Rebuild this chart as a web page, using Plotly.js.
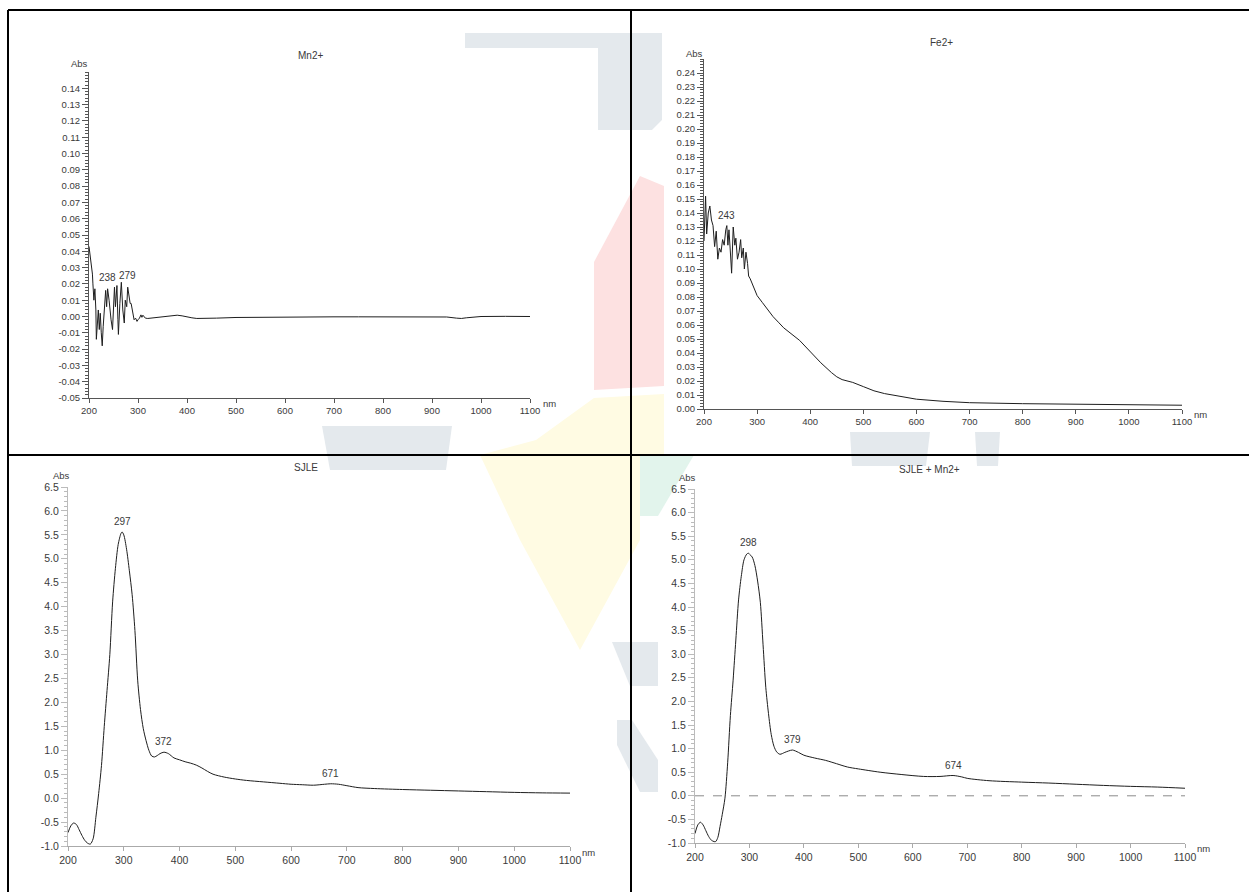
<!DOCTYPE html>
<html>
<head>
<meta charset="utf-8">
<script src="https://cdn.plot.ly/plotly-3.0.1.min.js"></script>
<style>
  html, body { margin: 0; padding: 0; background: #ffffff; }
  #chart { width: 1249px; height: 892px; }
</style>
</head>
<body>
<div id="chart"></div>
<script>
// ---- Spectra (wavelength in nm, absorbance) ----
const mnWavelength = [200,202,205,207,208,210,212,214,215,217,219,221,223,225,227,229,231,234,236,238,241,243,245,248,250,252,254,257,259,260,263,266,269,272,274,277,279,282,284,286,289,292,295,298,300,303,306,308,310,315,320,330,340,350,360,370,380,390,400,410,420,440,460,500,550,600,650,700,750,800,850,900,930,950,960,970,990,1000,1050,1100];
const mnAbs = [0.043,0.038,0.033,0.026,0.020,0.010,0.017,0.004,-0.014,-0.003,0.004,-0.008,0.002,-0.010,-0.018,-0.006,0.006,0.016,0.006,0.017,0.010,0.003,-0.002,-0.008,0.004,0.018,0.006,0.019,-0.002,-0.011,0.008,0.021,0.004,-0.004,0.010,0.006,0.018,0.012,0.008,0.008,0.002,-0.002,-0.001,-0.003,-0.002,-0.001,0.001,-0.0005,0.0008,-0.001,-0.0012,-0.0008,-0.0005,0.0000,0.0002,0.0006,0.0008,0.0004,-0.0004,-0.0008,-0.0012,-0.0012,-0.0010,-0.0006,-0.0004,-0.0003,-0.0002,-0.0002,-0.0002,-0.0002,-0.0002,-0.0001,-0.0003,-0.0010,-0.0012,-0.0008,-0.0003,0.0000,0.0001,0.0000];

const feWavelength = [200,201,203,205,208,211,214,217,220,223,226,229,232,235,238,241,243,245,247,250,252,255,258,260,263,266,269,271,274,276,279,282,284,287,290,295,300,310,320,330,340,350,360,370,380,390,400,420,440,450,460,480,500,520,540,560,580,600,650,700,800,900,1000,1100];
const feAbs = [0.120,0.140,0.152,0.125,0.140,0.145,0.135,0.131,0.116,0.127,0.107,0.115,0.112,0.121,0.117,0.128,0.131,0.117,0.128,0.110,0.097,0.130,0.117,0.122,0.107,0.112,0.121,0.108,0.115,0.100,0.112,0.104,0.095,0.093,0.090,0.085,0.081,0.076,0.071,0.066,0.062,0.058,0.055,0.052,0.049,0.045,0.041,0.033,0.026,0.023,0.021,0.019,0.016,0.013,0.011,0.0095,0.0083,0.0070,0.0055,0.0045,0.0038,0.0036,0.0033,0.0027];

const sjleWavelength = [200,205,210,215,220,225,230,235,240,245,250,255,260,265,270,275,280,285,290,295,297,300,305,310,315,320,325,330,335,340,345,350,355,360,365,372,380,390,400,410,420,430,440,450,460,480,500,520,550,580,600,620,640,660,671,685,700,720,750,800,850,900,950,1000,1050,1100];
const sjleAbs = [-0.72,-0.58,-0.52,-0.55,-0.66,-0.78,-0.88,-0.94,-0.96,-0.85,-0.40,0.10,0.68,1.50,2.25,3.00,4.10,4.80,5.30,5.53,5.56,5.50,5.20,4.75,4.25,3.50,2.45,1.85,1.45,1.20,1.00,0.88,0.86,0.89,0.93,0.96,0.93,0.84,0.80,0.76,0.73,0.69,0.63,0.56,0.50,0.44,0.40,0.37,0.34,0.31,0.29,0.28,0.27,0.29,0.30,0.29,0.26,0.22,0.20,0.18,0.165,0.15,0.135,0.12,0.11,0.105];

const sjleMnWavelength = [200,205,210,215,220,225,230,235,238,242,246,250,255,260,265,270,275,280,285,290,295,298,300,305,310,315,320,325,330,335,340,345,350,356,365,372,379,390,400,420,440,460,480,500,540,580,620,650,674,690,700,740,800,850,900,950,1000,1050,1100];
const sjleMnAbs = [-0.80,-0.62,-0.56,-0.62,-0.74,-0.86,-0.94,-0.97,-0.97,-0.88,-0.65,-0.40,-0.05,0.70,1.70,2.45,3.30,4.15,4.65,5.00,5.12,5.14,5.12,5.06,4.88,4.55,4.10,3.20,2.30,1.74,1.30,1.05,0.93,0.88,0.92,0.95,0.97,0.92,0.86,0.80,0.75,0.68,0.61,0.57,0.50,0.45,0.41,0.41,0.43,0.40,0.37,0.32,0.29,0.27,0.245,0.22,0.20,0.185,0.16];

// ---- Axis ticks and labels ----
const wlTicks = [200,300,400,500,600,700,800,900,1000,1100];
const wlTickText = ['200','300','400','500','600','700','800','900','1000','1100'];
const mnTicks = [-0.05,-0.04,-0.03,-0.02,-0.01,0.00,0.01,0.02,0.03,0.04,0.05,0.06,0.07,0.08,0.09,0.10,0.11,0.12,0.13,0.14];
const mnTickText = ['-0.05','-0.04','-0.03','-0.02','-0.01','0.00','0.01','0.02','0.03','0.04','0.05','0.06','0.07','0.08','0.09','0.10','0.11','0.12','0.13','0.14'];
const feTicks = [0.00,0.01,0.02,0.03,0.04,0.05,0.06,0.07,0.08,0.09,0.10,0.11,0.12,0.13,0.14,0.15,0.16,0.17,0.18,0.19,0.20,0.21,0.22,0.23,0.24];
const feTickText = ['0.00','0.01','0.02','0.03','0.04','0.05','0.06','0.07','0.08','0.09','0.10','0.11','0.12','0.13','0.14','0.15','0.16','0.17','0.18','0.19','0.20','0.21','0.22','0.23','0.24'];
const sjleTicks = [-1.0,-0.5,0.0,0.5,1.0,1.5,2.0,2.5,3.0,3.5,4.0,4.5,5.0,5.5,6.0,6.5];
const sjleTickText = ['-1.0','-0.5','0.0','0.5','1.0','1.5','2.0','2.5','3.0','3.5','4.0','4.5','5.0','5.5','6.0','6.5'];

// ---- Panel titles and peak labels ----
const panelTitles = ['Mn2+', 'Fe2+', 'SJLE', 'SJLE + Mn2+'];
const mnPeaks = [238, 279];
const fePeaks = [243];
const sjlePeaks = [297, 372, 671];
const sjleMnPeaks = [298, 379, 674];

// ---- Page geometry (pixels) ----
const W = 1249, H = 892;
const px = v => v / W;
const py = v => 1 - v / H;

const FONT = 'Liberation Sans, Arial, sans-serif';
const TEXT = '#3a3a3a';
const LINE = '#1e1e1e';

function xAxis(x0, x1, anchor, lineColor, fontSize) {
  return {
    domain: [px(x0), px(x1)], anchor: anchor, range: [200, 1100],
    tickmode: 'array', tickvals: wlTicks, ticktext: wlTickText,
    showgrid: false, zeroline: false, showline: true, linecolor: lineColor, linewidth: 1,
    ticks: 'outside', ticklen: 4, tickcolor: lineColor, tickwidth: 1,
    tickfont: { family: FONT, size: fontSize, color: TEXT }, fixedrange: true
  };
}
function yAxis(top, bottom, anchor, range, vals, text, minorStep, lineColor, fontSize, tickLen) {
  return {
    domain: [py(bottom), py(top)], anchor: anchor, range: range,
    tickmode: 'array', tickvals: vals, ticktext: text,
    showgrid: false, zeroline: false, showline: true, linecolor: lineColor, linewidth: 1,
    ticks: 'outside', ticklen: tickLen, tickcolor: lineColor, tickwidth: 1,
    minor: { dtick: minorStep, ticklen: 3, tickcolor: lineColor, ticks: 'outside', showgrid: false },
    tickfont: { family: FONT, size: fontSize, color: TEXT }, fixedrange: true
  };
}

const traces = [
  { x: mnWavelength, y: mnAbs, xaxis: 'x', yaxis: 'y', mode: 'lines', line: { color: LINE, width: 1 } },
  { x: feWavelength, y: feAbs, xaxis: 'x2', yaxis: 'y2', mode: 'lines', line: { color: LINE, width: 1 } },
  { x: sjleWavelength, y: sjleAbs, xaxis: 'x3', yaxis: 'y3', mode: 'lines', line: { color: LINE, width: 1, shape: 'spline', smoothing: 0.8 } },
  { x: sjleMnWavelength, y: sjleMnAbs, xaxis: 'x4', yaxis: 'y4', mode: 'lines', line: { color: LINE, width: 1, shape: 'spline', smoothing: 0.8 } }
];

function lookup(xs, ys, x) { return ys[xs.indexOf(x)]; }

function txt(text, x, y, xref, yref, extra) {
  return Object.assign({ text: text, x: x, y: y, xref: xref, yref: yref, showarrow: false,
    font: { family: FONT, size: 10, color: TEXT }, xanchor: 'center', yanchor: 'middle' }, extra || {});
}
const small = { font: { family: FONT, size: 9.5, color: TEXT } };

const annotations = [
  // panel titles
  txt(panelTitles[0], px(310), py(55), 'paper', 'paper'),
  txt(panelTitles[1], px(941), py(42), 'paper', 'paper'),
  txt(panelTitles[2], px(306), py(467), 'paper', 'paper'),
  txt(panelTitles[3], px(930), py(470), 'paper', 'paper'),
  // axis unit labels
  txt('Abs', px(79), py(64), 'paper', 'paper', small),
  txt('Abs', px(694), py(53), 'paper', 'paper', small),
  txt('Abs', px(61), py(475), 'paper', 'paper', small),
  txt('Abs', px(688), py(477), 'paper', 'paper', small),
  txt('nm', px(549), py(403), 'paper', 'paper', small),
  txt('nm', px(1200), py(414), 'paper', 'paper', small),
  txt('nm', px(588), py(852), 'paper', 'paper', small),
  txt('nm', px(1203), py(848), 'paper', 'paper', small),
];
// peak labels sit just above each marked maximum
mnPeaks.forEach(p => annotations.push(txt(String(p), p, lookup(mnWavelength, mnAbs, p), 'x', 'y', { yanchor: 'bottom', yshift: 4 })));
fePeaks.forEach(p => annotations.push(txt(String(p), p, lookup(feWavelength, feAbs, p), 'x2', 'y2', { yanchor: 'bottom', yshift: 3 })));
sjlePeaks.forEach(p => annotations.push(txt(String(p), p, lookup(sjleWavelength, sjleAbs, p), 'x3', 'y3', { yanchor: 'bottom', yshift: 3 })));
sjleMnPeaks.forEach(p => annotations.push(txt(String(p), p, lookup(sjleMnWavelength, sjleMnAbs, p), 'x4', 'y4', { yanchor: 'bottom', yshift: 3 })));

// faint logo printed behind the page, outlines given in page pixels
function area(points, color) {
  const d = points.map((p, i) => (i ? 'L' : 'M') + px(p[0]).toFixed(5) + ',' + py(p[1]).toFixed(5)).join(' ') + ' Z';
  return { type: 'path', xref: 'paper', yref: 'paper', path: d, fillcolor: color, line: { width: 0 }, layer: 'below' };
}
const GREY = '#e4e9ed', PINK = '#fde1e1', YELLOW = '#fffbe3', MINT = '#e2f4ec';
const backdrop = [
  area([[465,33],[662,33],[662,120],[652,130],[598,130],[598,48],[465,48]], GREY),
  area([[594,262],[640,176],[664,186],[664,386],[594,390]], PINK),
  area([[536,440],[594,398],[664,394],[664,455],[640,455],[640,540],[580,650],[520,540],[480,455]], YELLOW),
  area([[640,455],[694,455],[658,516],[640,516]], MINT),
  area([[322,426],[452,426],[446,470],[330,470]], GREY),
  area([[850,432],[930,432],[926,466],[852,466]], GREY),
  area([[975,432],[1000,432],[998,466],[977,466]], GREY),
  area([[612,642],[658,642],[658,686],[630,686]], GREY),
  area([[617,720],[632,720],[658,760],[658,792],[640,792],[617,745]], GREY)
];

const frame = { type: 'line', xref: 'paper', yref: 'paper', line: { color: '#000000', width: 2 } };
const shapes = backdrop.concat([
  Object.assign({}, frame, { x0: px(8), x1: 1, y0: py(10), y1: py(10) }),
  Object.assign({}, frame, { x0: px(8), x1: px(8), y0: py(10), y1: 0 }),
  Object.assign({}, frame, { x0: px(631), x1: px(631), y0: py(10), y1: 0 }),
  Object.assign({}, frame, { x0: px(8), x1: 1, y0: py(455), y1: py(455) }),
  // baseline of the SJLE + Mn2+ spectrum
  { type: 'line', xref: 'x4', yref: 'y4', x0: 200, x1: 1100, y0: 0, y1: 0, line: { color: '#8a8a8a', width: 1, dash: 'dash' } }
]);

const layout = {
  width: W, height: H, margin: { l: 0, r: 0, t: 0, b: 0 },
  paper_bgcolor: '#ffffff', plot_bgcolor: 'rgba(0,0,0,0)', showlegend: false,
  xaxis: xAxis(89, 530, 'y', '#555555', 9.5),
  yaxis: yAxis(72, 398, 'x', [-0.05, 0.15], mnTicks, mnTickText, 0.002, '#555555', 9.5, 6),
  xaxis2: xAxis(704, 1182, 'y2', '#555555', 9.5),
  yaxis2: yAxis(59, 409, 'x2', [0, 0.25], feTicks, feTickText, 0.002, '#555555', 9.5, 6),
  xaxis3: xAxis(68, 570, 'y3', '#aaaaaa', 10.5),
  yaxis3: yAxis(487, 846, 'x3', [-1, 6.5], sjleTicks, sjleTickText, 0.1, '#bbbbbb', 10.5, 6),
  xaxis4: xAxis(695, 1185, 'y4', '#aaaaaa', 10.5),
  yaxis4: yAxis(489, 843, 'x4', [-1, 6.5], sjleTicks, sjleTickText, 0.1, '#bbbbbb', 10.5, 6),
  annotations: annotations,
  shapes: shapes
};

Plotly.newPlot('chart', traces, layout, { staticPlot: true, displayModeBar: false });
</script>
</body>
</html>
